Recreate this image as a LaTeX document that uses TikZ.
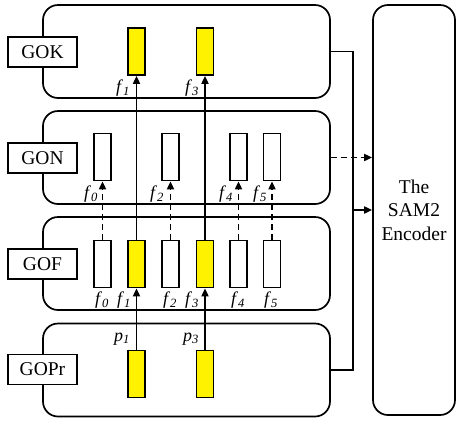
\documentclass[tikz,border=0pt]{standalone}
\usepackage{fontspec}
\setmainfont{Liberation Serif}
\usetikzlibrary{arrows.meta}
\newcommand\flab[2]{\textit{#1}\textsubscript{\textit{#2}}}
\begin{document}
\begin{tikzpicture}[x=1pt,y=-1pt,
  lw/.style={line width=1.7pt},
  panel/.style={lw,draw,rounded corners=15pt,minimum width=287pt,minimum height=93pt,inner sep=0pt},
  lab/.style={lw,draw,fill=white,minimum width=69pt,minimum height=30pt,inner sep=0pt,font=\fontsize{19.5}{23}\selectfont},
  ybox/.style={lw,draw,fill=yellow,minimum width=17pt,minimum height=47pt,inner sep=0pt},
  wbox/.style={lw,draw,fill=white,minimum width=17pt,minimum height=47pt,inner sep=0pt},
  fl/.style={inner sep=0pt,font=\fontsize{18}{20}\selectfont},
  arr/.style={lw,-{Triangle[length=8pt,width=7pt]}},
  darr/.style={arr,dash pattern=on 6pt off 4pt},
]
\useasboundingbox (0,0) rectangle (458,424);
% panels
\node[panel] (pK) at (186.5,51.5) {};
\node[panel] (pN) at (186.5,157.5) {};
\node[panel] (pF) at (186.5,263.5) {};
\node[panel] (pP) at (186.5,370) {};
% encoder
\node[lw,draw,rounded corners=15pt,minimum width=82pt,minimum height=410pt,inner sep=0pt,
  align=center,font=\fontsize{19.5}{23.5}\selectfont] (enc) at (414,210) {The\\SAM2\\Encoder};
% labels
\node[lab] (lK) at (42.5,52) {GOK};
\node[lab] (lN) at (42.5,158) {GON};
\node[lab] (lF) at (42.5,264) {GOF};
\node[lab] (lP) at (42.5,369.5) {GOPr};
% GOK boxes
\node[ybox] (k1) at (136.5,51.5) {};
\node[ybox] (k3) at (205,51.5) {};
% GON boxes
\node[wbox] (n0) at (102.5,157) {};
\node[wbox] (n2) at (170.5,157) {};
\node[wbox] (n4) at (238.5,157) {};
\node[wbox] (n5) at (272,157) {};
% GOF boxes
\node[wbox] (g0) at (102.5,264) {};
\node[ybox] (g1) at (136.5,264) {};
\node[wbox] (g2) at (170.5,264) {};
\node[ybox] (g3) at (205,264) {};
\node[wbox] (g4) at (238.5,264) {};
\node[wbox] (g5) at (272,264) {};
% GOPr boxes
\node[ybox] (q1) at (136.5,374) {};
\node[ybox] (q3) at (205,374) {};
% arrows
\draw[arr] (q1.north) -- (g1.south);
\draw[arr] (q3.north) -- (g3.south);
\draw[arr] (g1.north) -- (k1.south);
\draw[arr] (g3.north) -- (k3.south);
\draw[darr] (g0.north) -- (n0.south);
\draw[darr] (g2.north) -- (n2.south);
\draw[darr] (g4.north) -- (n4.south);
\draw[darr] (g5.north) -- (n5.south);
% labels f
\node[fl] (tk1) at (123,88) {\flab{f}{1}};
\node[fl] (tk3) at (192,88) {\flab{f}{3}};
\node[fl] (tn0) at (91,194) {\flab{f}{0}};
\node[fl] (tn2) at (157,194) {\flab{f}{2}};
\node[fl] (tn4) at (226,194) {\flab{f}{4}};
\node[fl] (tn5) at (260,194) {\flab{f}{5}};
\node[fl] (tg0) at (102,300) {\flab{f}{0}};
\node[fl] (tg1) at (124,300) {\flab{f}{1}};
\node[fl] (tg2) at (170,300) {\flab{f}{2}};
\node[fl] (tg3) at (192,300) {\flab{f}{3}};
\node[fl] (tg4) at (238,300) {\flab{f}{4}};
\node[fl] (tg5) at (271,300) {\flab{f}{5}};
\node[fl] (tp1) at (122,339) {\flab{p}{1}};
\node[fl] (tp3) at (191,339) {\flab{p}{3}};
% right connectors
\draw[lw] (pK.east) -- ++(22,0) coordinate (jt) |- (pP.east);
\draw[arr] (jt |- enc.west) -- (enc.west);
\draw[darr] (pN.east) -- (pN.east -| enc.west);
\end{tikzpicture}
\end{document}
